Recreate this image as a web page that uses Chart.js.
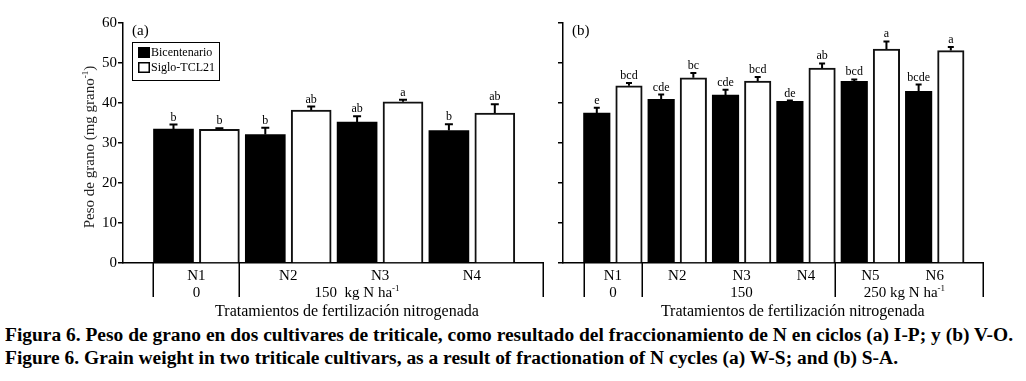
<!DOCTYPE html>
<html>
<head>
<meta charset="utf-8">
<script src="https://cdn.jsdelivr.net/npm/chart.js@4.4.0/dist/chart.umd.min.js"></script>
<style>
  body { margin: 0; background: #fff; width: 1026px; height: 381px; overflow: hidden; position: relative; }
  #boxA { position: absolute; left: 0; top: 0; width: 550px; height: 320px; }
  #boxB { position: absolute; left: 550px; top: 0; width: 476px; height: 320px; }
  .cap { position: absolute; left: 5px; font-family: 'Liberation Serif', 'Times New Roman', Times, 'Nimbus Roman', serif;
         font-weight: bold; font-size: 18px; line-height: 18px; white-space: nowrap; transform-origin: 0 0; color: #000; }
</style>
</head>
<body>
<div id="boxA"><canvas id="chartA"></canvas></div>
<div id="boxB"><canvas id="chartB"></canvas></div>
<div class="cap" id="cap1" style="top:326px">Figura 6. Peso de grano en dos cultivares de triticale, como resultado del fraccionamiento de N en ciclos (a) I-P; y (b) V-O.</div>
<div class="cap" id="cap2" style="top:349px">Figure 6. Grain weight in two triticale cultivars, as a result of fractionation of N cycles (a) W-S; and (b) S-A.</div>
<script>
// panel (a)
const groupsA = ['N1', 'N2', 'N3', 'N4'];
const bicentA = [33.5, 32.1, 35.2, 33.1];
const bicentErrA = [1.1, 1.7, 1.5, 1.6];
const sigloA = [33.4, 38.2, 40.3, 37.5];
const sigloErrA = [0.3, 0.9, 0.5, 2.2];
const bicentLetA = ['b', 'b', 'ab', 'b'];
const sigloLetA = ['b', 'ab', 'a', 'ab'];

// panel (b)
const groupsB = ['N1', 'N2', 'N3', 'N4', 'N5', 'N6'];
const bicentB = [37.5, 40.9, 42.0, 40.4, 45.4, 42.9];
const bicentErrB = [1.3, 1.2, 1.3, 0.2, 0.5, 1.7];
const sigloB = [44.3, 46.3, 45.5, 48.7, 53.5, 53.1];
const sigloErrB = [0.7, 1.2, 1.0, 1.2, 1.9, 0.9];
const bicentLetB = ['e', 'cde', 'cde', 'de', 'bcd', 'bcde'];
const sigloLetB = ['bcd', 'bc', 'bcd', 'ab', 'a', 'a'];

const yTicks = [0, 10, 20, 30, 40, 50, 60];
const seriesNames = ['Bicentenario', 'Siglo-TCL21'];
const xTitle = 'Tratamientos de fertilización nitrogenada';

const FONT = "'Liberation Serif', 'Times New Roman', Times, 'Nimbus Roman', serif";

// text with an optional superscript, centred on x
function drawSupText(ctx, x, y, text, sup, size) {
  ctx.font = size + 'px ' + FONT;
  const w1 = ctx.measureText(text).width;
  ctx.font = Math.round(size * 0.62) + 'px ' + FONT;
  const w2 = sup ? ctx.measureText(sup).width : 0;
  const sx = x - (w1 + w2) / 2;
  ctx.textAlign = 'left';
  ctx.textBaseline = 'alphabetic';
  ctx.font = size + 'px ' + FONT;
  ctx.fillText(text, sx, y);
  if (sup) {
    ctx.font = Math.round(size * 0.62) + 'px ' + FONT;
    ctx.fillText(sup, sx + w1, y - size * 0.38);
  }
  return sx + w1 + w2;
}

function makePanel(id, cfg) {
  const panelPlugin = {
    id: 'panel_' + id,
    afterDatasetsDraw(chart) {
      const ctx = chart.ctx;
      const ys = chart.scales.y;
      ctx.save();
      chart.data.datasets.forEach((ds, d) => {
        const meta = chart.getDatasetMeta(d);
        meta.data.forEach((bar, i) => {
          const top = ys.getPixelForValue(ds.data[i].y + cfg.errs[d][i]);
          ctx.strokeStyle = '#000';
          ctx.lineWidth = 2;
          ctx.beginPath();
          ctx.moveTo(bar.x, bar.y);
          ctx.lineTo(bar.x, top);
          ctx.moveTo(bar.x - cfg.cap / 2, top);
          ctx.lineTo(bar.x + cfg.cap / 2, top);
          ctx.stroke();
          ctx.fillStyle = '#000';
          ctx.font = '12px ' + FONT;
          ctx.textAlign = 'center';
          ctx.textBaseline = 'alphabetic';
          ctx.fillText(cfg.letters[d][i], bar.x, top - 4);
        });
      });
      ctx.restore();
    },
    afterDraw(chart) {
      const ctx = chart.ctx;
      const area = chart.chartArea;
      const xs = chart.scales.x;
      ctx.save();
      ctx.fillStyle = '#000';
      ctx.strokeStyle = '#000';

      // panel tag
      ctx.font = '15px ' + FONT;
      ctx.textAlign = 'left';
      ctx.textBaseline = 'middle';
      ctx.fillText(cfg.tag, area.left + 9, area.top + 8);

      // legend
      if (cfg.legend) {
        const lx = area.left + 9, ly = area.top + 19;
        ctx.lineWidth = 1;
        ctx.strokeRect(lx + 0.5, ly + 0.5, 87, 38);
        chart.data.datasets.forEach((ds, d) => {
          const ry = ly + 11 + d * 15;
          ctx.fillStyle = ds.backgroundColor;
          ctx.fillRect(lx + 6, ry - 6, 12, 11);
          if (ds.borderWidth) {
            ctx.lineWidth = 1.5;
            ctx.strokeRect(lx + 6.75, ry - 5.25, 10.5, 9.5);
          }
          ctx.fillStyle = '#000';
          ctx.font = '12px ' + FONT;
          ctx.textAlign = 'left';
          ctx.textBaseline = 'middle';
          ctx.fillText(ds.label, lx + 19, ry);
        });
      }

      // table-like separators under the axis
      const bars0 = chart.getDatasetMeta(0).data;
      const bars1 = chart.getDatasetMeta(1).data;
      const seps = [bars0[0].x - bars0[0].width / 2];
      cfg.splitAfter.forEach(g => seps.push(bars1[g].x + bars1[g].width / 2));
      seps.push(area.right);
      ctx.lineWidth = 1.5;
      ctx.beginPath();
      seps.forEach(px => {
        ctx.moveTo(Math.round(px) + 0.25, area.bottom);
        ctx.lineTo(Math.round(px) + 0.25, area.bottom + 34);
      });
      ctx.stroke();

      // dose row
      cfg.doses.forEach(dz => {
        drawSupText(ctx, xs.getPixelForValue(dz.at), area.bottom + 34, dz.text, dz.sup, 15);
      });

      // x title
      ctx.font = '16px ' + FONT;
      ctx.textAlign = 'center';
      ctx.textBaseline = 'alphabetic';
      ctx.fillText(xTitle, xs.getPixelForValue(cfg.titleAt), area.bottom + 53);

      // y title
      if (cfg.yTitle) {
        ctx.save();
        ctx.translate(89, (area.top + area.bottom) / 2 + 4);
        ctx.rotate(-Math.PI / 2);
        ctx.fillStyle = '#222';
        ctx.font = '15px ' + FONT;
        const wp = ctx.measureText(')').width;
        const end = drawSupText(ctx, -wp / 2, 5, 'Peso de grano (mg grano', '-1', 15);
        ctx.font = '15px ' + FONT;
        ctx.textAlign = 'left';
        ctx.fillText(')', end, 5);
        ctx.restore();
      }
      ctx.restore();
    }
  };

  return new Chart(document.getElementById(id), {
    type: 'bar',
    data: {
      datasets: [{
        label: seriesNames[0],
        data: cfg.bicent.map((v, i) => ({ x: 2 * i + 1, y: v })),
        backgroundColor: '#000',
        borderWidth: 0
      }, {
        label: seriesNames[1],
        data: cfg.siglo.map((v, i) => ({ x: 2 * i + 2, y: v })),
        backgroundColor: '#fff',
        borderColor: '#111',
        borderWidth: 2
      }]
    },
    options: {
      responsive: true,
      maintainAspectRatio: false,
      animation: false,
      grouped: false,
      barThickness: cfg.barW,
      layout: { padding: { left: 0, right: cfg.padRight, top: 23, bottom: 0 } },
      plugins: { legend: { display: false }, tooltip: { enabled: false } },
      scales: {
        x: {
          type: 'linear',
          min: cfg.min,
          max: cfg.max,
          offset: false,
          afterBuildTicks: s => { s.ticks = cfg.groups.map((g, i) => ({ value: 2 * i + 1.5 })); },
          afterFit: s => { s.height = 57; },
          ticks: {
            callback: (v, i) => cfg.groups[i],
            autoSkip: false, maxRotation: 0, padding: 4,
            color: '#000', font: { family: FONT, size: 15 }
          },
          grid: { display: false, drawTicks: false },
          border: { color: '#000', width: 1.5 }
        },
        y: {
          min: 0,
          max: 60,
          afterBuildTicks: s => { s.ticks = yTicks.map(v => ({ value: v })); },
          afterFit: s => { s.width = cfg.yWidth; },
          ticks: { display: cfg.yLabels, padding: 1, color: '#000', font: { family: FONT, size: 15 } },
          grid: { drawOnChartArea: false, drawTicks: true, tickLength: 5, color: '#000', lineWidth: 1.5 },
          border: { color: '#000', width: 1.5 }
        }
      }
    },
    plugins: [panelPlugin]
  });
}

makePanel('chartA', {
  groups: groupsA, bicent: bicentA, siglo: sigloA,
  errs: [bicentErrA, sigloErrA], letters: [bicentLetA, sigloLetA],
  min: -0.1, max: 9.05, barW: 40, cap: 8, yWidth: 123, padRight: 7,
  yLabels: true, yTitle: true, legend: true, tag: '(a)',
  splitAfter: [0],
  doses: [{ text: '0', at: 1.5 }, { text: '150  kg N ha', sup: '-1', at: 5.0 }],
  titleAt: 4.78
});

makePanel('chartB', {
  groups: groupsB, bicent: bicentB, siglo: sigloB,
  errs: [bicentErrB, sigloErrB], letters: [bicentLetB, sigloLetB],
  min: -0.05, max: 13.0, barW: 26.5, cap: 6, yWidth: 13, padRight: 43,
  yLabels: false, yTitle: false, legend: false, tag: '(b)',
  splitAfter: [0, 3],
  doses: [{ text: '0', at: 1.5 }, { text: '150', at: 5.5 }, { text: '250 kg N ha', sup: '-1', at: 10.56 }],
  titleAt: 7.09
});

// squeeze caption lines to the widths of the printed figure
[['cap1', 1008], ['cap2', 893]].forEach(([id, target]) => {
  const el = document.getElementById(id);
  const w = el.getBoundingClientRect().width;
  el.style.transform = 'scaleX(' + (target / w) + ')';
});
</script>
</body>
</html>
